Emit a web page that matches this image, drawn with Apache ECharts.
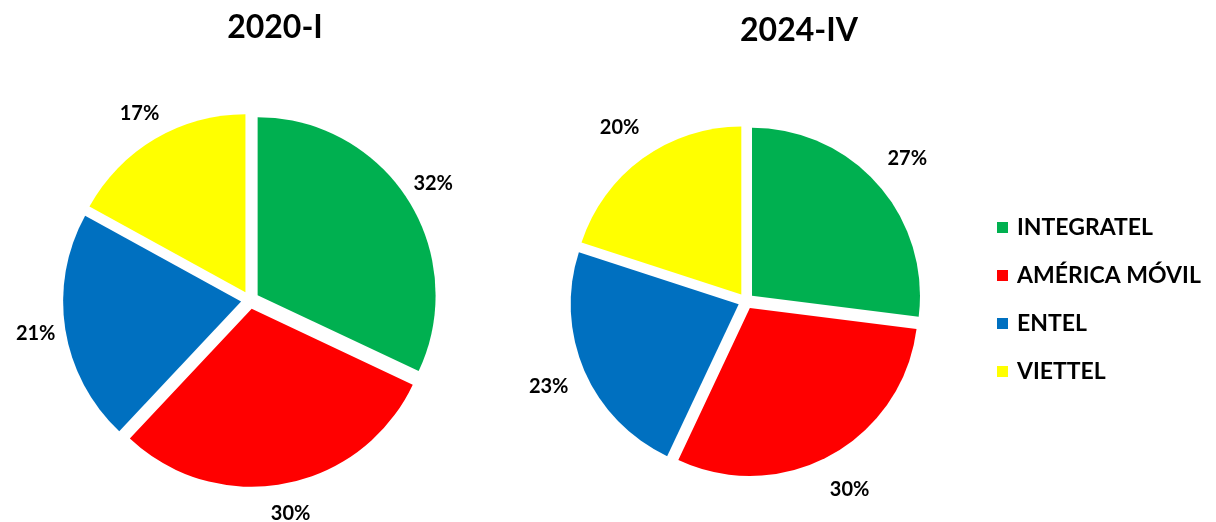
<!DOCTYPE html>
<html>
<head>
<meta charset="utf-8">
<script src="https://cdn.jsdelivr.net/npm/echarts@6/dist/echarts.min.js"></script>
<style>
  html, body { margin: 0; padding: 0; background: #fff; }
  #main { width: 1216px; height: 522px; }
</style>
</head>
<body>
<div id="main"></div>
<script>
// operadores y participación (%)
var operators = ['INTEGRATEL', 'AMÉRICA MÓVIL', 'ENTEL', 'VIETTEL'];
var colors = ['#00B050', '#FF0000', '#0070C0', '#FFFF00'];
var titles = ['2020-I', '2024-IV'];
var share2020 = [32, 30, 21, 17];
var share2024 = [27, 30, 23, 20];

var FONT = 'Lato, "Open Sans", sans-serif';

function pieData(values) {
  return operators.map(function (name, i) {
    return { name: name, value: values[i], selected: true, itemStyle: { color: colors[i] } };
  });
}

// pie principal, segmentos separados (explotados)
function mainPie(values, center, radius, offset) {
  return {
    type: 'pie',
    center: center,
    radius: radius,
    startAngle: 90,
    selectedMode: 'multiple',
    selectedOffset: offset,
    select: { itemStyle: { borderWidth: 0 } },
    emphasis: { scale: false },
    label: { show: false },
    labelLine: { show: false },
    data: pieData(values)
  };
}

// anillo transparente solo para colocar las etiquetas
function labelRing(values, center, r0, r1) {
  return {
    type: 'pie',
    center: center,
    radius: [r0, r1],
    startAngle: 90,
    silent: true,
    avoidLabelOverlap: false,
    itemStyle: { color: 'rgba(0,0,0,0)' },
    label: {
      show: true,
      position: 'inside',
      formatter: '{c}%',
      color: '#000',
      fontFamily: FONT,
      fontWeight: 'bold',
      fontSize: 20
    },
    labelLine: { show: false },
    data: operators.map(function (name, i) {
      return { name: name, value: values[i] };
    })
  };
}

var chart = echarts.init(document.getElementById('main'));

chart.setOption({
  backgroundColor: '#fff',
  animation: false,
  title: [{
    text: titles[0],
    left: 270, top: 7, textAlign: 'center',
    textStyle: { fontFamily: FONT, fontWeight: 'bold', fontSize: 32, color: '#000' }
  }, {
    text: titles[1],
    left: 794, top: 10, textAlign: 'center',
    textStyle: { fontFamily: FONT, fontWeight: 'bold', fontSize: 32, color: '#000' }
  }],
  legend: {
    orient: 'vertical',
    left: 992,
    top: 211,
    icon: 'rect',
    itemWidth: 11,
    itemHeight: 11,
    itemGap: 25,
    data: operators,
    textStyle: {
      fontFamily: FONT, fontWeight: 'bold', fontSize: 23, color: '#000',
      lineHeight: 23, padding: [0, 0, 0, 4]
    }
  },
  series: [
    mainPie(share2020, [250, 300], 178, 9),
    mainPie(share2024, [746, 301], 168, 8),
    labelRing(share2020, [250, 300], 196, 232),
    labelRing(share2024, [746, 301], 194, 230)
  ]
});
</script>
</body>
</html>
